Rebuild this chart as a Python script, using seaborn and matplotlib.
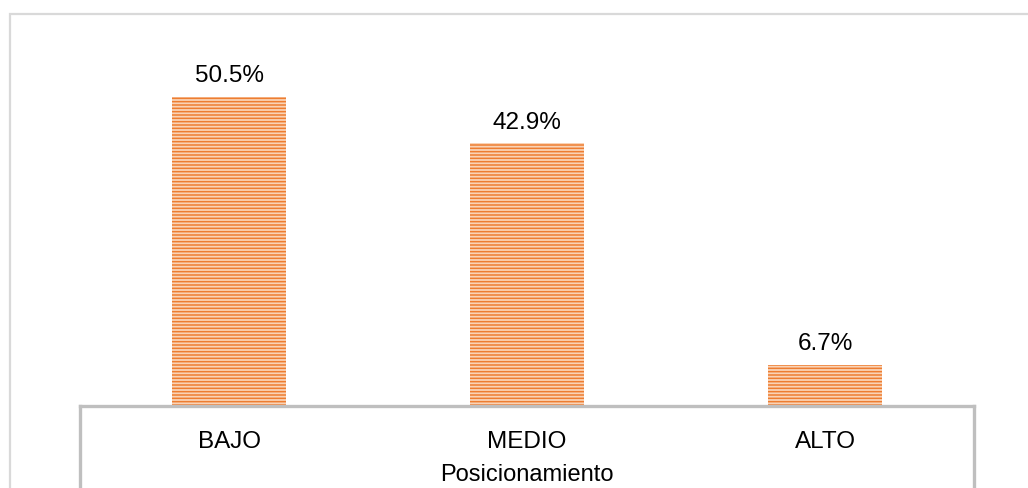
import matplotlib
matplotlib.use('Agg')
import matplotlib.pyplot as plt
import seaborn as sns
import pandas as pd
from matplotlib.patches import Rectangle

# Chart data
categorias = ['BAJO', 'MEDIO', 'ALTO']
porcentajes = [50.5, 42.9, 6.7]
eje_x = 'Posicionamiento'

df = pd.DataFrame({'Nivel': categorias, 'Porcentaje': porcentajes})

sns.set_style('white')
plt.rcParams['font.family'] = ['Liberation Sans', 'DejaVu Sans']
plt.rcParams['hatch.linewidth'] = 1.1
plt.rcParams['hatch.color'] = '#ED7D31'

fig = plt.figure(figsize=(10.28, 4.88), dpi=100)
W, H = 1028, 488

# outer light frame
fig.patches.append(Rectangle((10 / W, -0.1), 1.2, (488 - 14) / H + 0.1,
                             transform=fig.transFigure, fill=False,
                             edgecolor='#d9d9d9', linewidth=1.6))

ax = fig.add_axes([80 / W, (H - 406) / H, (974 - 80) / W, (406 - 30) / H])

sns.barplot(data=df, x='Nivel', y='Porcentaje', ax=ax, width=0.38,
            color='#FAD3B6', linewidth=0, saturation=1)

for p in ax.patches:
    p.set_hatch('-----')
    p.set_edgecolor('#ED7D31')

ax.set_ylim(0, (406 - 30) / 6.12)
ax.set_xlim(-0.5, 2.5)

ax.bar_label(ax.containers[0], labels=[f'{v:.1f}%' for v in porcentajes],
             padding=7, fontsize=17.5, color='#000000')

ax.set_yticks([])
ax.tick_params(axis='x', length=0, pad=18, labelsize=17.5, labelcolor='#000000')
ax.set_xlabel(eje_x, fontsize=17, labelpad=8, color='#000000')
ax.set_ylabel('')

for s in ['top', 'right', 'left']:
    ax.spines[s].set_visible(False)
ax.spines['bottom'].set_color('#bfbfbf')
ax.spines['bottom'].set_linewidth(2.4)

# vertical lines of the category box
for xx in [0, 1]:
    ax.plot([xx, xx], [0, -0.4], transform=ax.transAxes, clip_on=False,
            color='#bfbfbf', linewidth=2.4, solid_capstyle='projecting')

fig.savefig('out.png', dpi=100)
